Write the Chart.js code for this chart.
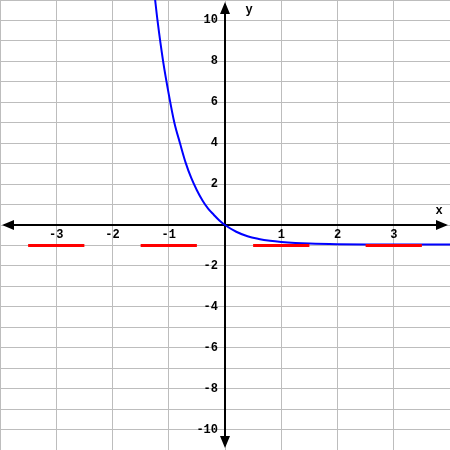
<!DOCTYPE html>
<html>
<head>
<meta charset="utf-8">
<script src="https://cdn.jsdelivr.net/npm/chart.js@4"></script>
<style>
  body { margin: 0; background: #fff; }
  #wrap { width: 450px; height: 450px; }
</style>
</head>
<body>
<div id="wrap"><canvas id="chart" width="450" height="450"></canvas></div>
<script>
// curve points
let curve_x = [-1.25, -1.2, -1.1, -1.0, -0.9, -0.8, -0.7, -0.6, -0.5, -0.4, -0.3, -0.2, -0.1, 0, 0.2, 0.4, 0.6, 0.8, 1.0, 1.25, 1.5, 2.0, 2.5, 3.0, 4.0];
let curve_y = [11.2, 10.0, 8.0, 6.4, 5.0, 4.0, 3.05, 2.3, 1.7, 1.2, 0.8, 0.5, 0.22, 0, -0.33, -0.55, -0.68, -0.77, -0.83, -0.88, -0.91, -0.94, -0.95, -0.95, -0.95];

// red asymptote pieces at y = -1
let asym_y = -1;
let dash_from = [-3.5, -1.5, 0.5, 2.5];
let dash_to = [-2.5, -0.5, 1.5, 3.5];

let x_labels = [-3, -2, -1, 1, 2, 3];
let y_labels = [-10, -8, -6, -4, -2, 2, 4, 6, 8, 10];

let curve_data = curve_x.map((x, i) => ({ x: x, y: curve_y[i] }));
let dash_data = [];
for (let i = 0; i < dash_from.length; i++) {
    dash_data.push({ x: dash_from[i], y: asym_y });
    dash_data.push({ x: dash_to[i], y: asym_y });
    dash_data.push({ x: dash_to[i], y: null });
}

const font = 'bold 12px "Liberation Mono", "DejaVu Sans Mono", monospace';

const axesPlugin = {
    id: 'axes',
    beforeDatasetsDraw(chart) {
        let ctx = chart.ctx;
        let sx = chart.scales.x;
        let sy = chart.scales.y;
        let x0 = sx.getPixelForValue(0);
        let y0 = sy.getPixelForValue(0);
        let a = chart.chartArea;

        ctx.save();
        ctx.strokeStyle = '#000';
        ctx.fillStyle = '#000';
        ctx.lineWidth = 2;
        ctx.beginPath();
        ctx.moveTo(a.left + 4, y0);
        ctx.lineTo(a.right - 4, y0);
        ctx.moveTo(x0, a.top + 4);
        ctx.lineTo(x0, a.bottom - 4);
        ctx.stroke();

        // arrow heads
        ctx.beginPath();
        ctx.moveTo(a.left + 2, y0); ctx.lineTo(a.left + 14, y0 - 5); ctx.lineTo(a.left + 14, y0 + 5); ctx.closePath();
        ctx.moveTo(a.right - 2, y0); ctx.lineTo(a.right - 14, y0 - 5); ctx.lineTo(a.right - 14, y0 + 5); ctx.closePath();
        ctx.moveTo(x0, a.top + 2); ctx.lineTo(x0 - 5, a.top + 14); ctx.lineTo(x0 + 5, a.top + 14); ctx.closePath();
        ctx.moveTo(x0, a.bottom - 2); ctx.lineTo(x0 - 5, a.bottom - 14); ctx.lineTo(x0 + 5, a.bottom - 14); ctx.closePath();
        ctx.fill();

        ctx.font = font;
        ctx.textBaseline = 'middle';
        ctx.textAlign = 'center';
        x_labels.forEach(v => {
            ctx.fillText('' + v, sx.getPixelForValue(v), y0 + 10);
        });
        ctx.textAlign = 'right';
        y_labels.forEach(v => {
            ctx.fillText('' + v, x0 - 7, sy.getPixelForValue(v));
        });
        ctx.textAlign = 'center';
        ctx.fillText('x', a.right - 11, y0 - 14);
        ctx.fillText('y', x0 + 24, a.top + 10);
        ctx.restore();
    }
};

let chart = new Chart(document.getElementById('chart'), {
    type: 'line',
    data: {
        datasets: [
            {
                label: 'asymptote',
                data: dash_data,
                borderColor: '#ff0000',
                borderWidth: 3,
                pointRadius: 0,
                spanGaps: false,
                fill: false
            },
            {
                label: 'curve',
                data: curve_data,
                borderColor: '#0000ff',
                borderWidth: 2,
                pointRadius: 0,
                cubicInterpolationMode: 'monotone',
                fill: false
            }
        ]
    },
    options: {
        responsive: false,
        animation: false,
        layout: { padding: 0 },
        plugins: {
            legend: { display: false },
            tooltip: { enabled: false }
        },
        scales: {
            x: {
                type: 'linear',
                min: -4,
                max: 4,
                ticks: { stepSize: 1, display: false },
                grid: { color: '#bdbdbd', lineWidth: 1, drawTicks: false },
                border: { display: false }
            },
            y: {
                type: 'linear',
                min: -11,
                max: 11,
                ticks: { stepSize: 1, display: false },
                grid: { color: '#bdbdbd', lineWidth: 1, drawTicks: false },
                border: { display: false }
            }
        }
    },
    plugins: [axesPlugin]
});
</script>
</body>
</html>
